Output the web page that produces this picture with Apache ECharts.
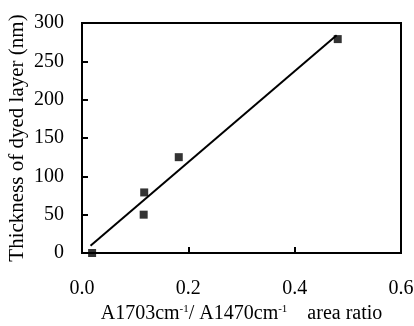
<!DOCTYPE html>
<html>
<head>
<meta charset="utf-8">
<script src="https://cdn.jsdelivr.net/npm/echarts@6/dist/echarts.min.js"></script>
<style>
  html, body { margin: 0; padding: 0; background: #fff; }
  #chart { width: 414px; height: 326px; }
</style>
</head>
<body>
<div id="chart"></div>
<script>
// measured points: area ratio vs thickness (nm)
const ratio = [0.019, 0.117, 0.116, 0.182, 0.481];
const thickness = [0, 79, 50, 125, 279];
// linear fit line end points
const fitX = [0.016, 0.479];
const fitY = [9.5, 284];

const font = 'Liberation Serif';

const chart = echarts.init(document.getElementById('chart'));

chart.setOption({
  animation: false,
  grid: {
    left: 82,
    right: 13,
    top: 23,
    bottom: 73,
    outerBoundsMode: 'none',
    show: true,
    borderColor: '#000',
    borderWidth: 2,
  },
  xAxis: {
    type: 'value',
    min: 0,
    max: 0.6,
    interval: 0.2,
    splitLine: { show: false },
    axisLine: { lineStyle: { color: '#000', width: 2 } },
    axisTick: { inside: true, length: 6, lineStyle: { color: '#000', width: 2 } },
    axisLabel: {
      color: '#000',
      fontFamily: font,
      fontSize: 20,
      margin: 26,
      formatter: v => v.toFixed(1),
    },
    name: '{t|A1703cm}{s|-1}{t|/ A1470cm}{s|-1}{t|    area ratio}',
    nameLocation: 'middle',
    nameGap: 50,
    nameTextStyle: {
      rich: {
        t: { fontFamily: font, fontSize: 20, color: '#000', verticalAlign: 'bottom' },
        s: { fontFamily: font, fontSize: 11, color: '#000', verticalAlign: 'top', padding: [0, 0, 9, 0] },
      },
    },
  },
  yAxis: {
    type: 'value',
    min: 0,
    max: 300,
    interval: 50,
    splitLine: { show: false },
    axisLine: { lineStyle: { color: '#000', width: 2 } },
    axisTick: { inside: true, length: 6, lineStyle: { color: '#000', width: 2 } },
    axisLabel: {
      color: '#000',
      fontFamily: font,
      fontSize: 20,
      margin: 18,
    },
    name: 'Thickness of dyed layer (nm)',
    nameLocation: 'middle',
    nameGap: 54,
    nameMoveOverlap: false,
    nameTextStyle: { color: '#000', fontFamily: font, fontSize: 21 },
  },
  series: [
    {
      type: 'line',
      data: fitX.map((x, i) => [x, fitY[i]]),
      showSymbol: false,
      lineStyle: { color: '#000', width: 2 },
      z: 2,
    },
    {
      type: 'scatter',
      data: ratio.map((x, i) => [x, thickness[i]]),
      symbol: 'rect',
      symbolSize: 8,
      itemStyle: { color: '#000' },
      z: 3,
    },
  ],
});
</script>
</body>
</html>
